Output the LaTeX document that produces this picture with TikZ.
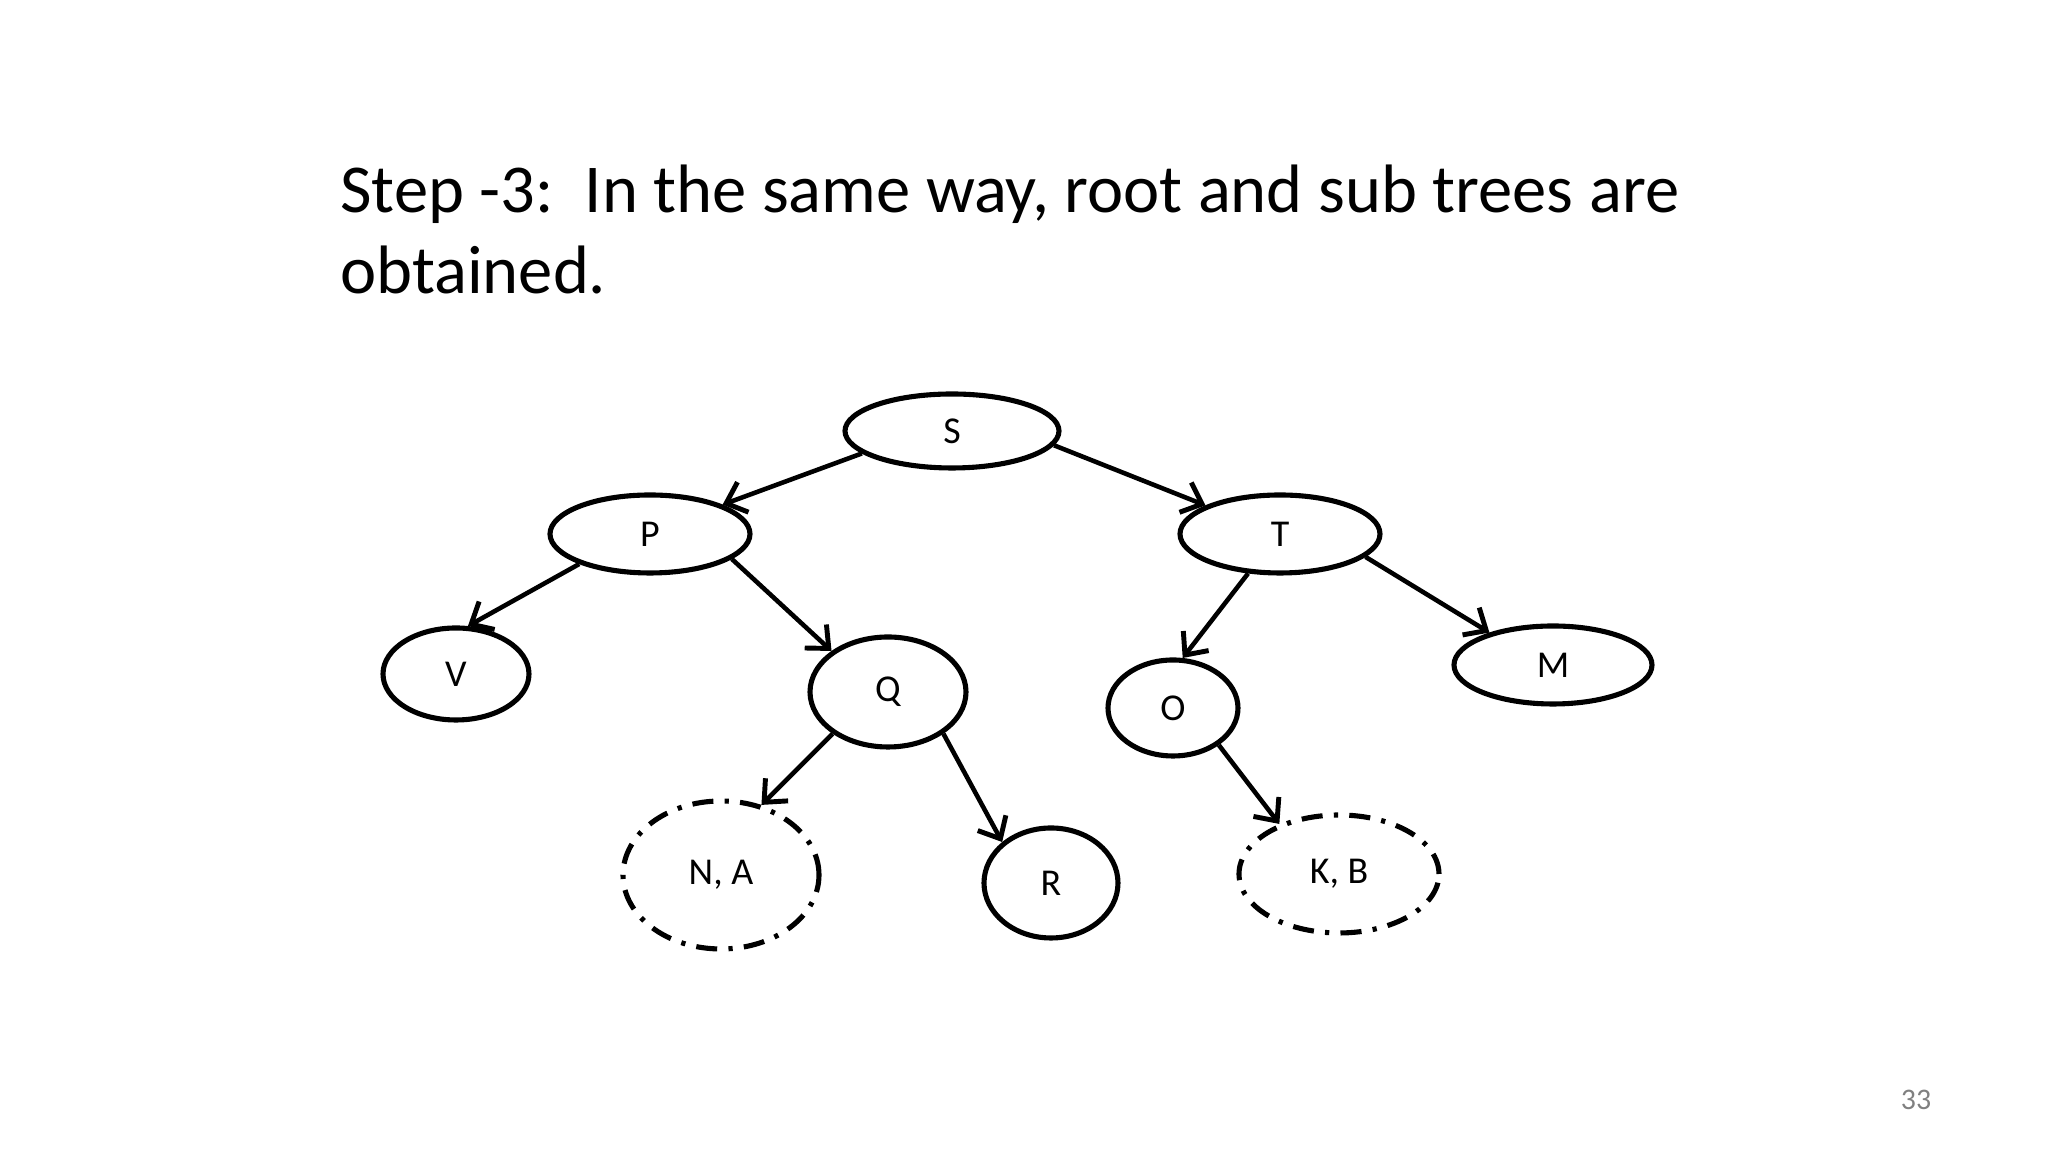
\documentclass[tikz,border=0pt]{standalone}
\usepackage{fontspec}
\setmainfont{Carlito}
\usetikzlibrary{arrows.meta, shapes.geometric}

\begin{document}
\begin{tikzpicture}[
    tnode/.style={draw, ellipse, line width=1.45pt, inner sep=0pt,
      font=\fontsize{10.8}{13}\selectfont},
    subtree/.style={tnode, dash pattern=on 6pt off 3.2pt on 1.2pt off 3.2pt},
    link/.style={-{Straight Barb[length=1.8mm,width=3.2mm,line width=1.4pt]}, line width=1.3pt}
  ]
  \useasboundingbox (0,0) rectangle (20.48,11.52);
  %--- Heading ---
  \node[anchor=base west, font=\fontsize{19.5}{23}\selectfont] (title1) at (3.28,9.39)
    {Step -3:\ \ In the same way, root and sub trees are};
  \node[anchor=base west, font=\fontsize{19.5}{23}\selectfont] (title2) at (3.28,8.58)
    {obtained.};
  %--- Tree ---
  \node[tnode, minimum width=2.14cm, minimum height=0.74cm] (S) at (9.52,7.21) {S};
  \node[tnode, minimum width=2.00cm, minimum height=0.78cm] (P) at (6.50,6.18) {P};
  \node[tnode, minimum width=2.00cm, minimum height=0.78cm] (T) at (12.80,6.18) {T};
  \node[tnode, minimum width=1.46cm, minimum height=0.92cm] (V) at (4.56,4.78) {V};
  \node[tnode, minimum width=1.56cm, minimum height=1.10cm] (Q) at (8.88,4.60) {Q};
  \node[tnode, minimum width=1.30cm, minimum height=0.96cm] (O) at (11.73,4.44) {O};
  \node[tnode, minimum width=1.98cm, minimum height=0.78cm] (M) at (15.53,4.87) {M};
  \node[tnode, minimum width=1.34cm, minimum height=1.10cm] (R) at (10.51,2.69) {R};
  % remaining sub trees
  \node[subtree, minimum width=1.96cm, minimum height=1.48cm] (NA) at (7.21,2.77) {N, A};
  \node[subtree, minimum width=2.00cm, minimum height=1.18cm] (KB) at (13.39,2.78) {K, B};
  %--- Links ---
  \draw[link] (S.194) -- (P.22);
  \draw[link] (S.352) -- (T.159);
  \draw[link] (P.203) -- (V.76);
  \draw[link] (P.343) -- (Q.144);
  \draw[link] (T.231) -- (O.79);
  \draw[link] (T.345) -- (M.153);
  \draw[link] (Q.217) -- (NA.60);
  \draw[link] (Q.323) -- (R.140);
  \draw[link] (O.321) -- (KB.140);
  %--- Page number ---
  \node[gray, font=\fontsize{8.5}{10}\selectfont] (page) at (19.16,0.52) {33};
\end{tikzpicture}
\end{document}
